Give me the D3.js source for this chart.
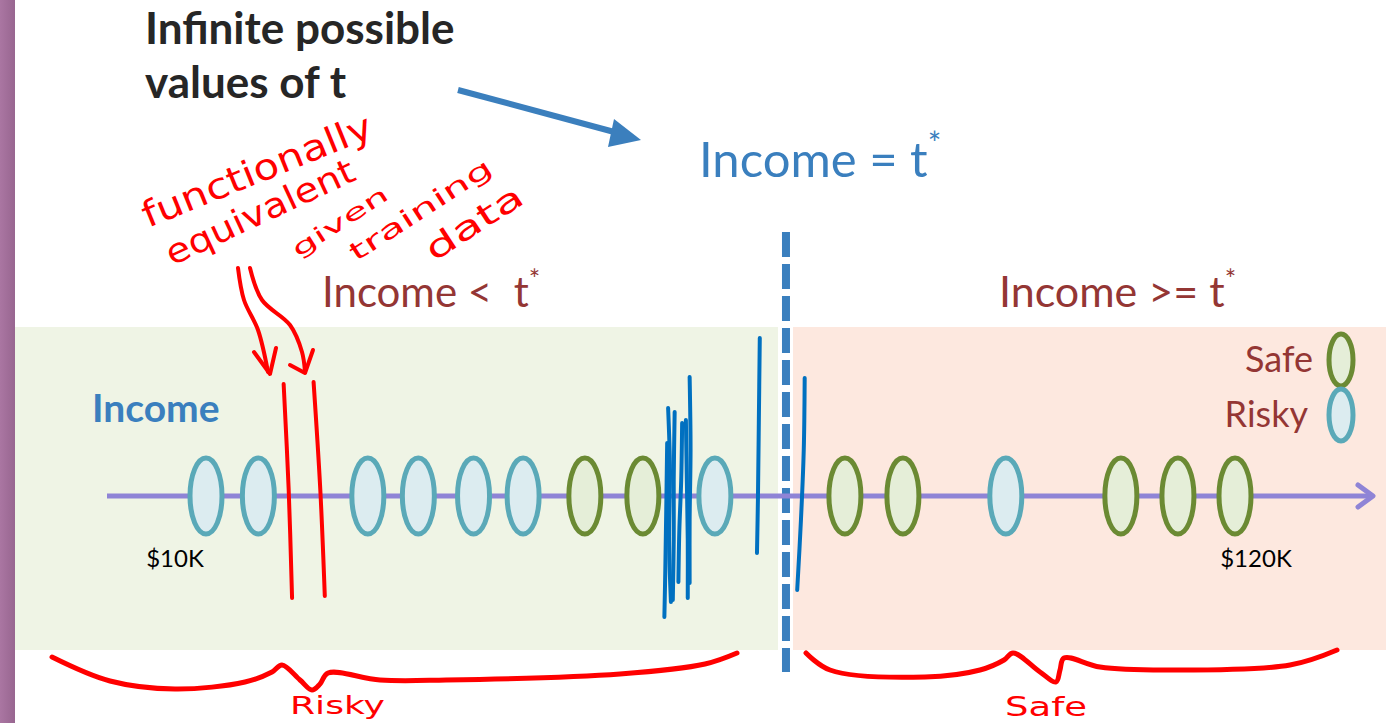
<!DOCTYPE html>
<html>
<head>
<meta charset="utf-8">
<script src="https://cdn.jsdelivr.net/npm/d3@7"></script>
<style>
  html, body { margin: 0; padding: 0; background: #ffffff; }
  svg { display: block; }
  text { white-space: pre; }
</style>
</head>
<body>
<svg id="chart" width="1386" height="723"></svg>
<script>
// ---------------- DATA ----------------
const incomes = [10, 15.6, 27.3, 32.7, 38.6, 43.9, 50.5, 56.7, 64.4, 78.3, 84.5, 95.5, 107.8, 113.9, 120];
const classes = ["Risky","Risky","Risky","Risky","Risky","Risky","Safe","Safe","Risky","Safe","Safe","Risky","Safe","Safe","Safe"];
const tickValues = [10, 120];
const tickLabels = ["$10K", "$120K"];
const threshold = 72;
const legendLabels = ["Safe", "Risky"];
const titleLines = ["Infinite possible", "values of t"];
const splitLabels = ["Income <  t", "Income >= t"];
// hand-drawn annotation strokes (income value, pixel y)
const redCuts = [[18.3, 19.2], [21.5, 22.7]];              // [top income, bottom income]
const blueCluster = [
  [[59.4,408],[59.6,470],[59.5,540],[59.7,602]],
  [[59.3,443],[59.2,510],[59.1,570],[59.0,617]],
  [[60.1,412],[60.0,480],[60.0,540],[59.9,600]],
  [[60.9,423],[60.8,480],[60.6,530],[60.5,582]],
  [[61.3,420],[61.4,480],[61.5,540],[61.5,598]],
  [[61.7,377],[61.8,450],[61.7,520],[61.7,583]],
  [[69.2,338],[69.1,420],[69.0,500],[68.9,553]],
  [[74.0,378],[73.9,450],[73.6,520],[73.2,590]]
];

// ---------------- LAYOUT ----------------
const svg = d3.select("#chart");
const W = 1386, H = 723;
const axisY = 496;
const bandTop = 327, bandBottom = 650;
const FONT = "Lato, 'Open Sans', sans-serif";

const x = d3.scaleLinear().domain([10, 120]).range([206, 1235]);
const color = d3.scaleOrdinal().domain(["Safe","Risky"]).range(["#6b8a33", "#5aa9b8"]);
const fill = d3.scaleOrdinal().domain(["Safe","Risky"]).range(["#e5eed8", "#dcecf0"]);

// left purple strip
const defs = svg.append("defs");
const grad = defs.append("linearGradient").attr("id", "strip").attr("x1", 0).attr("x2", 1);
grad.append("stop").attr("offset", "0%").attr("stop-color", "#aa76a2");
grad.append("stop").attr("offset", "100%").attr("stop-color", "#986690");
svg.append("rect").attr("x", 0).attr("y", 0).attr("width", 15).attr("height", H).attr("fill", "url(#strip)");

// background bands
const tx = x(threshold);
svg.append("rect").attr("x", 15).attr("y", bandTop).attr("width", tx - 8 - 15).attr("height", bandBottom - bandTop).attr("fill", "#eff4e5");
svg.append("rect").attr("x", tx + 7).attr("y", bandTop).attr("width", W - tx - 7).attr("height", bandBottom - bandTop).attr("fill", "#fde8df");

// title
const title = svg.append("text").attr("x", 146).attr("font-family", FONT)
  .attr("font-weight", 700).attr("font-size", 44).attr("fill", "#262626");
titleLines.forEach((t, i) => title.append("tspan").attr("x", 145).attr("y", 44 + i * 54).text(t));

// blue arrow
svg.append("line").attr("x1", 458).attr("y1", 90).attr("x2", 618).attr("y2", 133)
  .attr("stroke", "#3b7fbd").attr("stroke-width", 6);
svg.append("path").attr("d", "M641,140 L614,119 L608,147 Z").attr("fill", "#3b7fbd");

// Income = t*
const eq = svg.append("text").attr("x", 699).attr("y", 177).attr("font-family", FONT)
  .attr("font-size", 49).attr("fill", "#3a7fbe");
eq.append("tspan").text("Income = t");
eq.append("tspan").attr("dy", -22).attr("font-size", 32).text("*");

// split labels
splitLabels.forEach((t, i) => {
  const lbl = svg.append("text").attr("x", i === 0 ? 322 : 999).attr("y", 307)
    .attr("font-family", FONT).attr("font-size", i === 0 ? 42 : 43).attr("fill", "#943634");
  lbl.append("tspan").text(t);
  lbl.append("tspan").attr("dy", -18).attr("font-size", 27).text("*");
});

// threshold dashed line
svg.append("line").attr("x1", tx).attr("x2", tx).attr("y1", 232).attr("y2", 672)
  .attr("stroke", "#3a7fbe").attr("stroke-width", 8).attr("stroke-dasharray", "25,7");

// axis line with arrow
svg.append("line").attr("x1", 107).attr("x2", 1372).attr("y1", axisY).attr("y2", axisY)
  .attr("stroke", "#8f84d6").attr("stroke-width", 5);
svg.append("path").attr("d", `M1358,485 L1373,${axisY} L1358,507`).attr("fill", "none")
  .attr("stroke", "#8f84d6").attr("stroke-width", 5).attr("stroke-linecap", "round").attr("stroke-linejoin", "round");

// axis label
svg.append("text").attr("x", 92).attr("y", 422).attr("font-family", FONT)
  .attr("font-weight", 700).attr("font-size", 39).attr("fill", "#3a7fbe").text("Income");

// tick labels
const tickOffsets = [-31, 21];
svg.selectAll(".tick").data(tickValues).enter().append("text")
  .attr("x", (d, i) => x(d) + tickOffsets[i]).attr("y", 567)
  .attr("text-anchor", "middle").attr("font-family", FONT)
  .attr("font-size", 24).attr("fill", "#000").text((d, i) => tickLabels[i]);

// data points
svg.selectAll(".pt").data(incomes).enter().append("ellipse")
  .attr("cx", d => x(d)).attr("cy", axisY).attr("rx", 16).attr("ry", 38)
  .attr("fill", (d, i) => fill(classes[i])).attr("stroke", (d, i) => color(classes[i])).attr("stroke-width", 5);

// legend
legendLabels.forEach((l, i) => {
  const cy = 360 + i * 55;
  svg.append("ellipse").attr("cx", 1341).attr("cy", cy).attr("rx", 12).attr("ry", 26)
    .attr("fill", fill(l)).attr("stroke", color(l)).attr("stroke-width", 5);
  svg.append("text").attr("x", i === 0 ? 1313 : 1308).attr("y", cy + 12).attr("text-anchor", "end")
    .attr("font-family", FONT).attr("font-size", 36).attr("fill", "#943634").text(l);
});

// ---------------- HAND-DRAWN ANNOTATIONS ----------------
const pen = d3.line().curve(d3.curveCatmullRom);
// red cut lines
redCuts.forEach(([a, b], i) => {
  svg.append("path").attr("d", pen([[x(a), 384 - i * 2], [x(a + (b - a) * 0.6), 490], [x(b), 598 - i * 2]]))
    .attr("fill", "none").attr("stroke", "#ff0000").attr("stroke-width", 4).attr("stroke-linecap", "round");
});
// red arrows
const redArrows = [
  [[238, 268], [244, 300], [258, 330], [268, 372]],
  [[250, 268], [262, 300], [290, 325], [302, 352], [305, 372]]
];
redArrows.forEach(p => svg.append("path").attr("d", pen(p)).attr("fill", "none")
  .attr("stroke", "#ff0000").attr("stroke-width", 4).attr("stroke-linecap", "round"));
svg.append("path").attr("d", "M254,352 L270,374 L276,348").attr("fill", "none").attr("stroke", "#ff0000")
  .attr("stroke-width", 4).attr("stroke-linecap", "round").attr("stroke-linejoin", "round");
svg.append("path").attr("d", "M290,365 L305,373 L313,350").attr("fill", "none").attr("stroke", "#ff0000")
  .attr("stroke-width", 4).attr("stroke-linecap", "round").attr("stroke-linejoin", "round");

// handwriting text
const hand = [
  { t: "functionally", x: 148, y: 228, r: -22, s: 36, len: 245 },
  { t: "equivalent", x: 172, y: 266, r: -25, s: 34, len: 205 },
  { t: "given", x: 298, y: 258, r: -33, s: 22, len: 110 },
  { t: "training", x: 356, y: 262, r: -33, s: 25, len: 165 },
  { t: "data", x: 434, y: 262, r: -33, s: 32, len: 110 }
];
hand.forEach(h => svg.append("text").attr("transform", `translate(${h.x},${h.y}) rotate(${h.r})`)
  .attr("font-family", "'DejaVu Sans', sans-serif").attr("font-size", h.s).attr("fill", "#ff0000")
  .attr("textLength", h.len).attr("lengthAdjust", "spacingAndGlyphs").text(h.t));

// blue scribbles
blueCluster.forEach(s => svg.append("path").attr("d", pen(s.map(([v, y]) => [x(v), y])))
  .attr("fill", "none").attr("stroke", "#0070c0").attr("stroke-width", 4).attr("stroke-linecap", "round"));

// braces
const braces = [
  [[52, 657], [110, 681], [175, 689], [245, 682], [272, 672], [282, 665], [300, 680], [312, 690], [320, 684], [328, 673], [380, 680], [446, 680], [620, 674], [705, 664], [737, 653]],
  [[806, 653], [830, 670], [925, 677], [980, 670], [1004, 660], [1013, 653], [1040, 672], [1056, 682], [1060, 670], [1064, 658], [1100, 667], [1164, 670], [1290, 665], [1337, 650]]
];
braces.forEach(b => svg.append("path").attr("d", d3.line().curve(d3.curveCatmullRom.alpha(0.5))(b)).attr("fill", "none")
  .attr("stroke", "#ff0000").attr("stroke-width", 5).attr("stroke-linecap", "round").attr("stroke-linejoin", "round"));
svg.append("text").attr("x", 290).attr("y", 714).attr("font-family", "'DejaVu Sans', sans-serif")
  .attr("font-size", 24).attr("fill", "#ff0000").attr("textLength", 95).attr("lengthAdjust", "spacingAndGlyphs").text("Risky");
svg.append("text").attr("x", 1005).attr("y", 716).attr("font-family", "'DejaVu Sans', sans-serif")
  .attr("font-size", 26).attr("fill", "#ff0000").attr("textLength", 82).attr("lengthAdjust", "spacingAndGlyphs").text("Safe");
</script>
</body>
</html>
